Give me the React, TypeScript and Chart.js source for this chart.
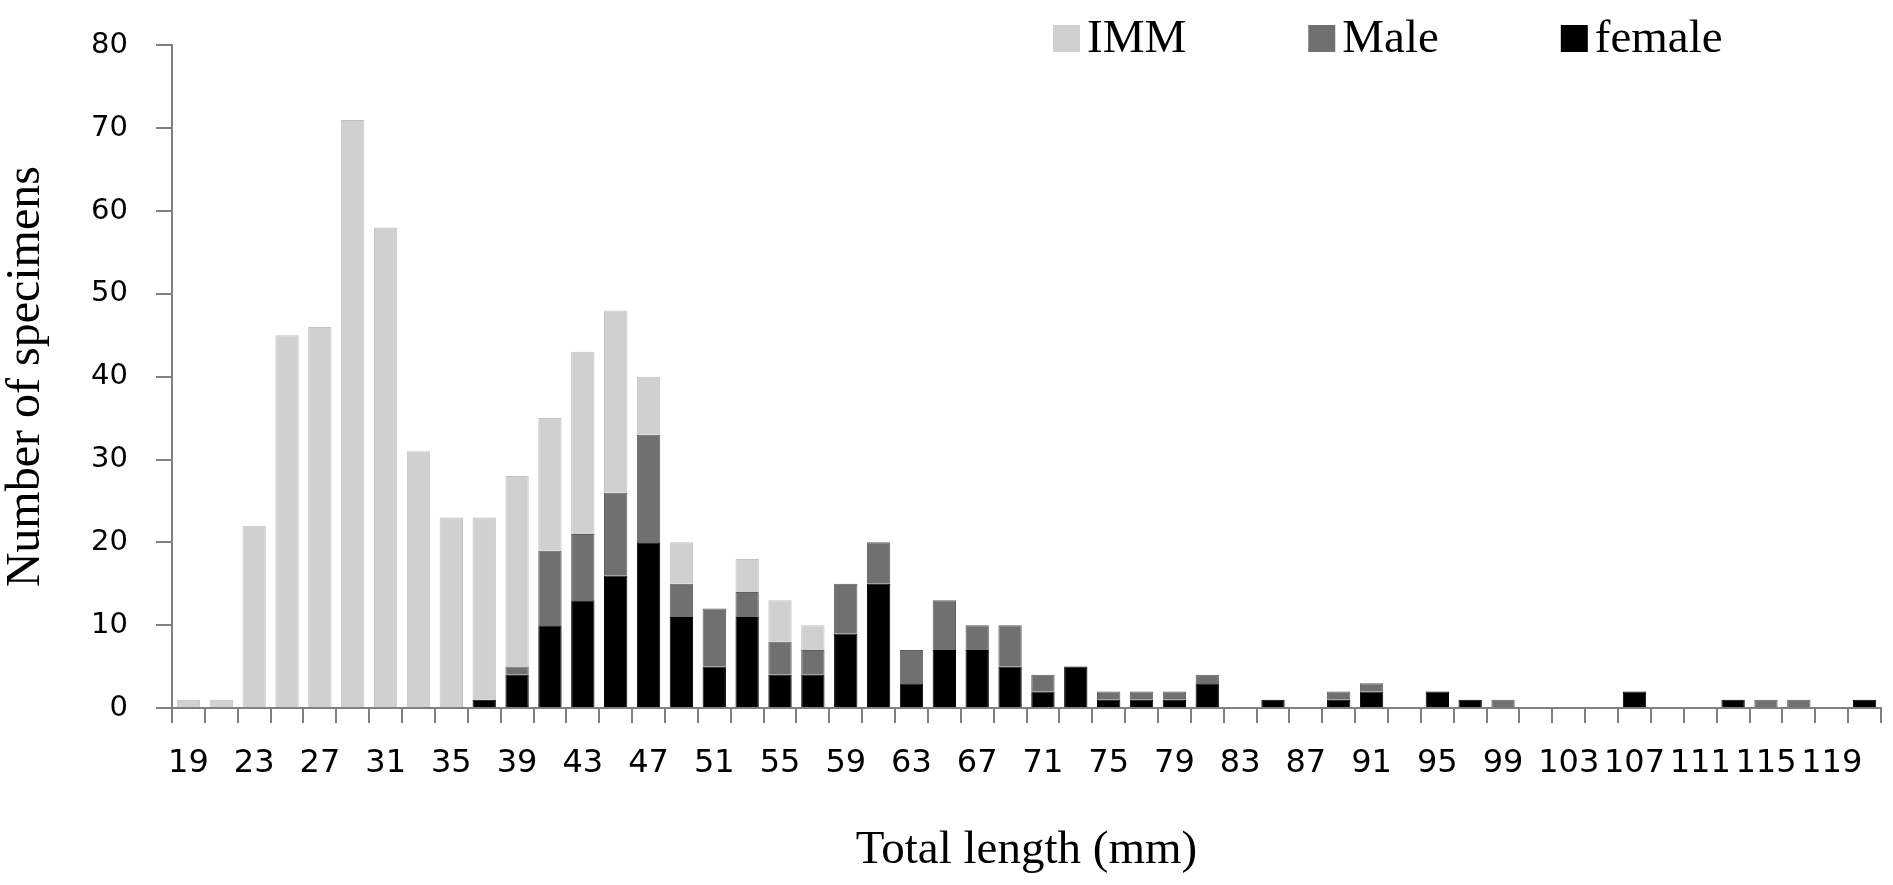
import React, { useEffect, useRef } from "react";
import { Chart, registerables } from "chart.js";

Chart.register(...registerables);

// Total length classes (mm)
const lengthClasses: number[] = [
  19, 21, 23, 25, 27, 29, 31, 33, 35, 37, 39, 41, 43, 45, 47, 49, 51, 53, 55, 57,
  59, 61, 63, 65, 67, 69, 71, 73, 75, 77, 79, 81, 83, 85, 87, 89, 91, 93, 95, 97,
  99, 101, 103, 105, 107, 109, 111, 113, 115, 117, 119, 121,
];

const femaleCounts: number[] = [
  0, 0, 0, 0, 0, 0, 0, 0, 0, 1, 4, 10, 13, 16, 20, 11, 5, 11, 4, 4,
  9, 15, 3, 7, 7, 5, 2, 5, 1, 1, 1, 3, 0, 1, 0, 1, 2, 0, 2, 1,
  0, 0, 0, 0, 2, 0, 0, 1, 0, 0, 0, 1,
];

const maleCounts: number[] = [
  0, 0, 0, 0, 0, 0, 0, 0, 0, 0, 1, 9, 8, 10, 13, 4, 7, 3, 4, 3,
  6, 5, 4, 6, 3, 5, 2, 0, 1, 1, 1, 1, 0, 0, 0, 1, 1, 0, 0, 0,
  1, 0, 0, 0, 0, 0, 0, 0, 1, 1, 0, 0,
];

const immCounts: number[] = [
  1, 1, 22, 45, 46, 71, 58, 31, 23, 22, 23, 16, 22, 22, 7, 5, 0, 4, 5, 3,
  0, 0, 0, 0, 0, 0, 0, 0, 0, 0, 0, 0, 0, 0, 0, 0, 0, 0, 0, 0,
  0, 0, 0, 0, 0, 0, 0, 0, 0, 0, 0, 0,
];

const yTicks: number[] = [0, 10, 20, 30, 40, 50, 60, 70, 80];

const SERIF = "'Liberation Serif', 'Times New Roman', serif";
const SANS = "'DejaVu Sans', Verdana, sans-serif";
const AXIS_GREY = "#808080";

const legendPlugin = {
  id: "customLegend",
  afterDraw(chart: any) {
    const ctx = chart.ctx as CanvasRenderingContext2D;
    const items = [...chart.data.datasets].reverse();
    const box = 27;
    const gapText = 7;
    const gapItem = 122;
    let x = 1053;
    const boxTop = 25;
    ctx.save();
    ctx.font = `47px ${SERIF}`;
    ctx.textBaseline = "alphabetic";
    ctx.textAlign = "left";
    for (const ds of items) {
      ctx.fillStyle = ds.backgroundColor as string;
      ctx.fillRect(x, boxTop, box, box);
      ctx.fillStyle = "#000";
      const tx = x + box + gapText;
      ctx.fillText(ds.label, tx, boxTop + box);
      const w = ctx.measureText(ds.label).width;
      x = tx + w + gapItem;
    }
    ctx.restore();
  },
};

export default function App() {
  const canvasRef = useRef<HTMLCanvasElement | null>(null);

  useEffect(() => {
    document.body.style.margin = "0";
    document.body.style.overflow = "hidden";
    const canvas = canvasRef.current;
    if (!canvas) return;
    const chart = new Chart(canvas, {
      type: "bar",
      data: {
        labels: lengthClasses.map(String),
        datasets: [
          {
            label: "female",
            data: femaleCounts,
            backgroundColor: "#000000",
            borderColor: "#000000",
            borderWidth: 1,
          },
          {
            label: "Male",
            data: maleCounts,
            backgroundColor: "#707070",
            borderColor: "#5e5e5e",
            borderWidth: 1,
          },
          {
            label: "IMM",
            data: immCounts,
            backgroundColor: "#d0d0d0",
            borderColor: "#c2c2c2",
            borderWidth: 1,
          },
        ],
      },
      options: {
        responsive: false,
        animation: false,
        devicePixelRatio: 1,
        layout: { padding: { top: 17, right: 12, left: 0, bottom: 0 } },
        datasets: {
          bar: { barPercentage: 0.71, categoryPercentage: 1.0 },
        },
        plugins: {
          legend: { display: false },
          tooltip: { enabled: false },
          title: { display: false },
        },
        scales: {
          x: {
            stacked: true,
            offset: true,
            grid: {
              display: true,
              drawOnChartArea: false,
              drawTicks: true,
              tickLength: 15,
              color: AXIS_GREY,
              lineWidth: 2,
              offset: true,
            },
            border: { display: true, color: AXIS_GREY, width: 2 },
            ticks: {
              autoSkip: false,
              maxRotation: 0,
              minRotation: 0,
              padding: 21,
              color: "#000",
              font: { family: SANS, size: 32 },
              callback: (_v: any, i: number) =>
                i % 2 === 0 ? String(lengthClasses[i]) : "",
            },
            title: {
              display: true,
              text: "Total length (mm)",
              color: "#000",
              font: { family: SERIF, size: 47 },
              padding: { top: 0, bottom: 6 },
            },
            afterFit: (scale: any) => {
              scale.height = 177;
            },
          },
          y: {
            stacked: true,
            min: 0,
            max: 80,
            afterBuildTicks: (scale: any) => {
              scale.ticks = yTicks.map((v) => ({ value: v }));
            },
            grid: {
              display: true,
              drawOnChartArea: false,
              drawTicks: true,
              tickLength: 16,
              color: AXIS_GREY,
              lineWidth: 2,
            },
            border: { display: true, color: AXIS_GREY, width: 2 },
            ticks: {
              padding: 28,
              color: "#000",
              font: { family: SANS, size: 29 },
            },
            title: {
              display: true,
              text: "Number of specimens",
              color: "#000",
              font: { family: SERIF, size: 48, lineHeight: 1.0 },
              padding: { top: 2, bottom: 0 },
            },
            afterFit: (scale: any) => {
              scale.width = 172;
            },
          },
        },
      },
      plugins: [legendPlugin],
    });
    return () => chart.destroy();
  }, []);

  return (
    <div style={{ width: 1893, height: 885, background: "#fff" }}>
      <canvas
        ref={canvasRef}
        width={1893}
        height={885}
        style={{ display: "block", width: 1893, height: 885 }}
      />
    </div>
  );
}
